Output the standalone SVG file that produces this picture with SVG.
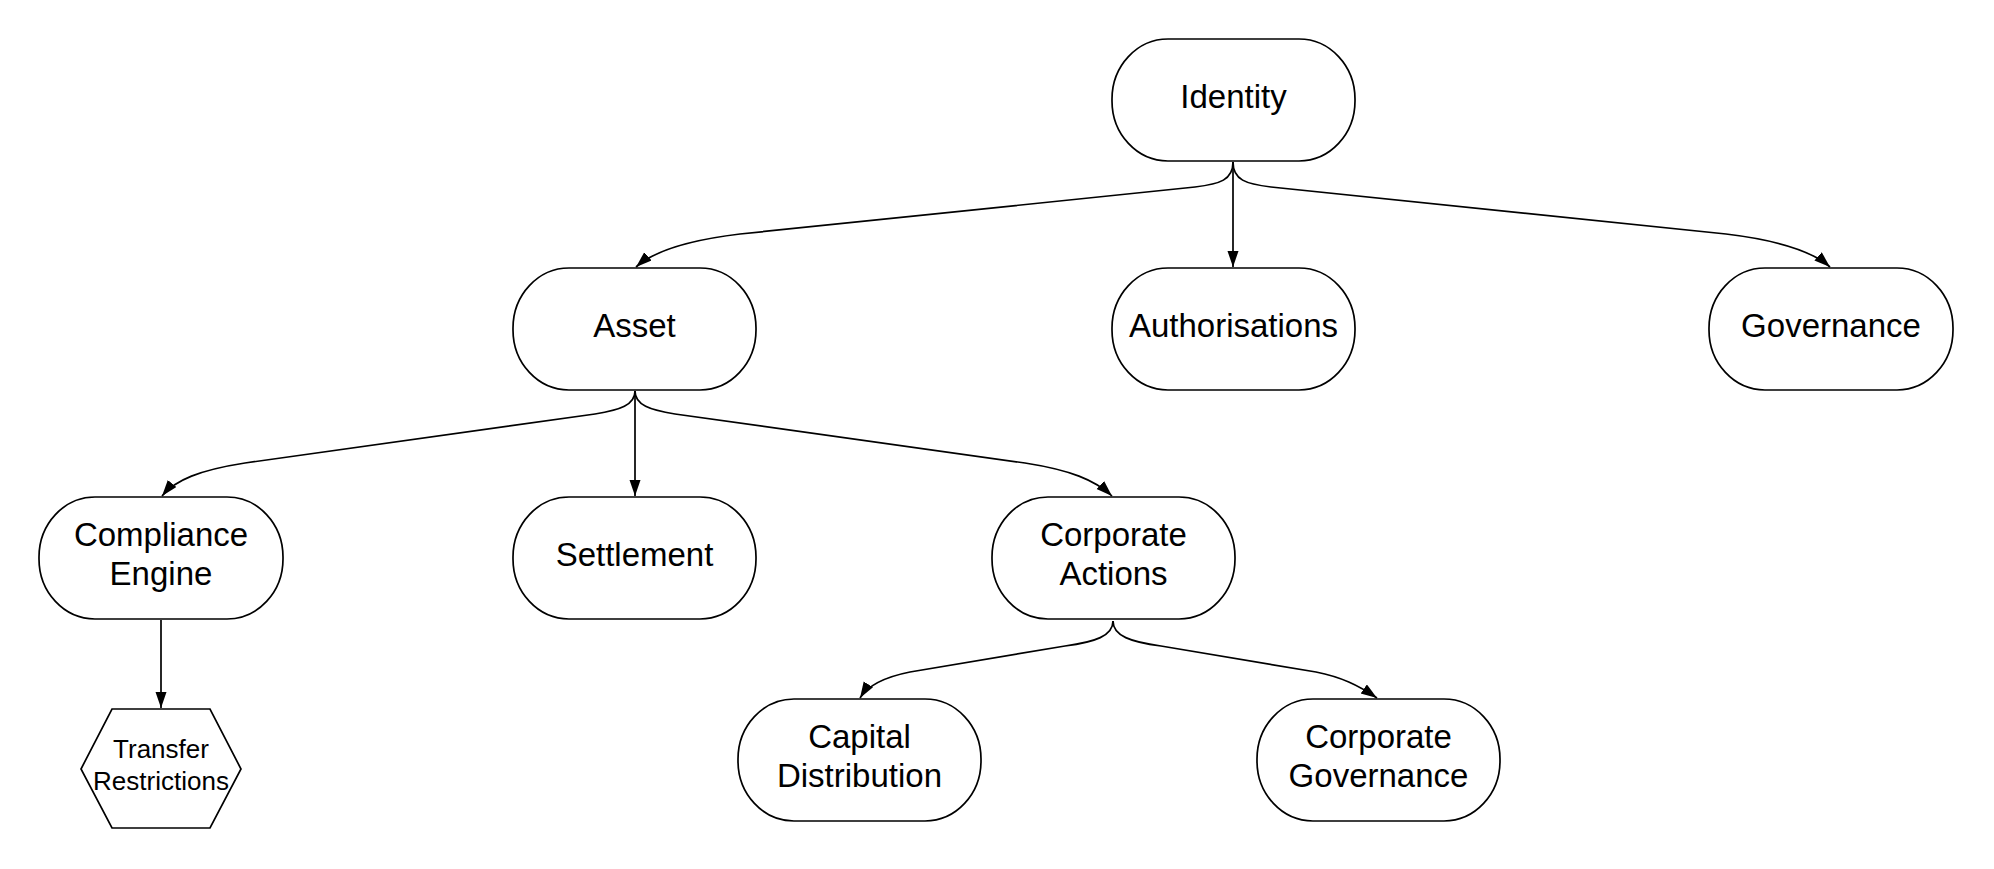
<svg xmlns="http://www.w3.org/2000/svg" width="1994" height="869" viewBox="0 0 1994 869">
<style>
.node rect, .node polygon { fill: #ffffff; stroke: #000000; stroke-width: 1.7; }
.node text { font-family: "Liberation Sans", Arial, sans-serif; font-size: 33px; fill: #000000; text-anchor: middle; }
.node text.small { font-size: 26px; }
.conn path { fill: none; stroke: #000000; stroke-width: 1.7; marker-end: url(#arrow); }
</style>
<defs>
<marker id="arrow" markerUnits="userSpaceOnUse" markerWidth="18" markerHeight="12" refX="16" refY="5.5" orient="auto">
<path d="M0,0 L16,5.5 L0,11 z" fill="#000000"/>
</marker>
</defs>
<rect width="1994" height="869" fill="#ffffff"/>
<g id="connectors" class="conn">
<path d="M1233,162 C1233,180 1220,184 1195,187 L740,234 C690,240 655,250 636,267"/>
<path d="M1233,162 L1233,267"/>
<path d="M1233,162 C1233,180 1246,184 1271,187 L1726,234 C1776,240 1811,250 1830,267"/>
<path d="M635,391 C635,405 620,410 595,414 L245,463 C200,470 175,480 162,496"/>
<path d="M635,391 L635,496"/>
<path d="M635,391 C635,405 650,410 675,414 L1025,463 C1070,470 1095,480 1112,496"/>
<path d="M161,620 L161,708"/>
<path d="M1113,621 C1113,636 1095,642 1065,646 L910,672 C885,677 868,685 860,698"/>
<path d="M1113,621 C1113,636 1131,642 1161,646 L1316,672 C1341,677 1358,685 1377,698"/>
</g>
<g id="identity" class="node">
<rect x="1112" y="39" width="243" height="122" rx="56" ry="60"/>
<text x="1233.5" y="108">Identity</text>
</g>
<g id="asset" class="node">
<rect x="513" y="268" width="243" height="122" rx="56" ry="60"/>
<text x="634.5" y="337">Asset</text>
</g>
<g id="authorisations" class="node">
<rect x="1112" y="268" width="243" height="122" rx="56" ry="60"/>
<text x="1233.5" y="337">Authorisations</text>
</g>
<g id="governance" class="node">
<rect x="1709" y="268" width="244" height="122" rx="56" ry="60"/>
<text x="1831" y="337">Governance</text>
</g>
<g id="compliance-engine" class="node">
<rect x="39" y="497" width="244" height="122" rx="56" ry="60"/>
<text x="161" y="546">Compliance</text>
<text x="161" y="585">Engine</text>
</g>
<g id="settlement" class="node">
<rect x="513" y="497" width="243" height="122" rx="56" ry="60"/>
<text x="634.5" y="566">Settlement</text>
</g>
<g id="corporate-actions" class="node">
<rect x="992" y="497" width="243" height="122" rx="56" ry="60"/>
<text x="1113.5" y="546">Corporate</text>
<text x="1113.5" y="585">Actions</text>
</g>
<g id="transfer-restrictions" class="node">
<polygon points="112,709 210,709 241,769 210,828 112,828 81,769"/>
<text class="small" x="161" y="758">Transfer</text>
<text class="small" x="161" y="790">Restrictions</text>
</g>
<g id="capital-distribution" class="node">
<rect x="738" y="699" width="243" height="122" rx="56" ry="60"/>
<text x="859.5" y="748">Capital</text>
<text x="859.5" y="787">Distribution</text>
</g>
<g id="corporate-governance" class="node">
<rect x="1257" y="699" width="243" height="122" rx="56" ry="60"/>
<text x="1378.5" y="748">Corporate</text>
<text x="1378.5" y="787">Governance</text>
</g>
</svg>
